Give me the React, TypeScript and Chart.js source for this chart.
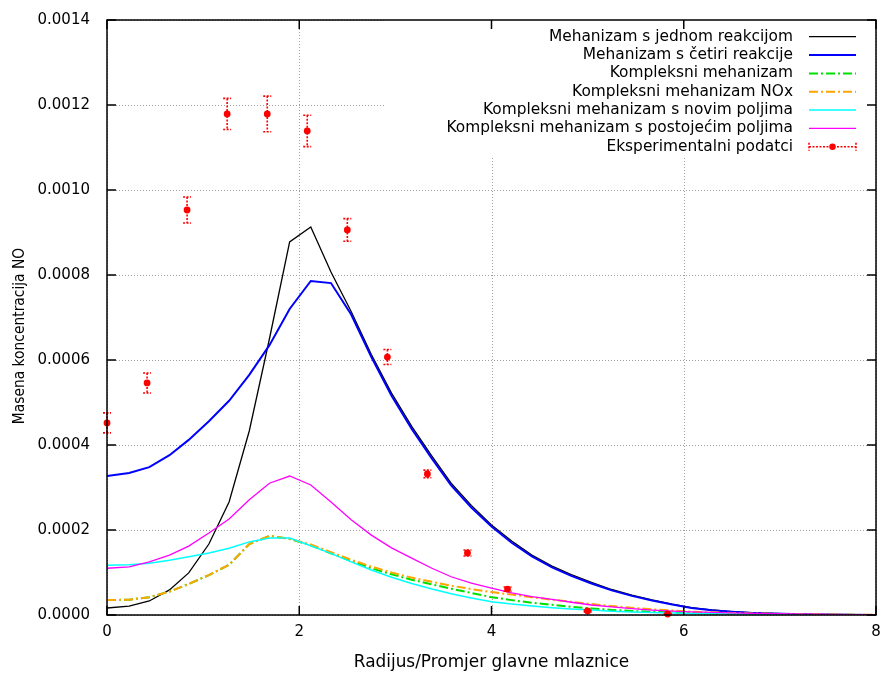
import React, { useEffect, useRef } from 'react';
import { Chart, registerables } from 'chart.js';

Chart.register(...registerables);

// ---------- data ----------
const xModel = [0, 0.23, 0.44, 0.65, 0.85, 1.06, 1.27, 1.48, 1.69, 1.9, 2.12, 2.33, 2.54, 2.75, 2.96, 3.17, 3.38, 3.58, 3.79, 4.0, 4.21, 4.42, 4.63, 4.83, 5.04, 5.25, 5.46, 5.67, 5.88, 6.08, 6.29, 6.5, 6.71, 6.92, 7.13, 7.33, 7.54, 7.75, 8.0];

const jednaReakcija = [1.65e-5, 2.1e-5, 3.3e-5, 5.9e-5, 9.9e-5, 1.67e-4, 2.66e-4, 4.33e-4, 6.5e-4, 8.78e-4, 9.13e-4, 8.07e-4, 7.14e-4, 6.13e-4, 5.22e-4, 4.44e-4, 3.74e-4, 3.1e-4, 2.58e-4, 2.12e-4, 1.74e-4, 1.41e-4, 1.15e-4, 9.5e-5, 7.7e-5, 6.0e-5, 4.7e-5, 3.55e-5, 2.55e-5, 1.72e-5, 1.2e-5, 8e-6, 5.5e-6, 3.5e-6, 2.5e-6, 1.5e-6, 1e-6, 6e-7, 3e-7];

const cetiriReakcije = [3.27e-4, 3.34e-4, 3.48e-4, 3.76e-4, 4.12e-4, 4.56e-4, 5.04e-4, 5.65e-4, 6.35e-4, 7.2e-4, 7.86e-4, 7.81e-4, 7.07e-4, 6.07e-4, 5.16e-4, 4.38e-4, 3.68e-4, 3.05e-4, 2.53e-4, 2.08e-4, 1.7e-4, 1.38e-4, 1.12e-4, 9.2e-5, 7.4e-5, 5.8e-5, 4.5e-5, 3.4e-5, 2.45e-5, 1.65e-5, 1.1e-5, 7.5e-6, 5e-6, 3.3e-6, 2.3e-6, 1.4e-6, 9e-7, 5e-7, 2e-7];

const kompleksni = [3.5e-5, 3.6e-5, 4.2e-5, 5.5e-5, 7.3e-5, 9.4e-5, 1.18e-4, 1.67e-4, 1.86e-4, 1.79e-4, 1.64e-4, 1.45e-4, 1.27e-4, 1.1e-4, 9.6e-5, 8.3e-5, 7.2e-5, 6.2e-5, 5.2e-5, 4.2e-5, 3.5e-5, 2.9e-5, 2.4e-5, 1.9e-5, 1.55e-5, 1.2e-5, 9.5e-6, 7.5e-6, 5.8e-6, 4.5e-6, 3.4e-6, 2.6e-6, 2e-6, 1.5e-6, 1.1e-6, 8e-7, 5e-7, 3e-7, 2e-7];

const kompleksniNOx = [3.5e-5, 3.6e-5, 4.2e-5, 5.5e-5, 7.3e-5, 9.4e-5, 1.18e-4, 1.67e-4, 1.86e-4, 1.79e-4, 1.66e-4, 1.48e-4, 1.3e-4, 1.14e-4, 1.0e-4, 8.8e-5, 7.8e-5, 6.9e-5, 6.1e-5, 5.4e-5, 4.8e-5, 4.2e-5, 3.6e-5, 3.1e-5, 2.6e-5, 2.1e-5, 1.7e-5, 1.35e-5, 1.05e-5, 8e-6, 6.2e-6, 4.8e-6, 3.7e-6, 2.8e-6, 2.1e-6, 1.5e-6, 1.1e-6, 7e-7, 4e-7];

const noviPolja = [1.17e-4, 1.18e-4, 1.22e-4, 1.29e-4, 1.37e-4, 1.46e-4, 1.57e-4, 1.72e-4, 1.81e-4, 1.81e-4, 1.63e-4, 1.45e-4, 1.25e-4, 1.06e-4, 8.9e-5, 7.4e-5, 6.1e-5, 5.0e-5, 4.0e-5, 3.1e-5, 2.6e-5, 2.1e-5, 1.7e-5, 1.4e-5, 1.15e-5, 9e-6, 7e-6, 6e-6, 4.5e-6, 3.5e-6, 2.8e-6, 2.2e-6, 1.7e-6, 1.3e-6, 1e-6, 7e-7, 5e-7, 3e-7, 2e-7];

const postojeciPolja = [1.1e-4, 1.13e-4, 1.25e-4, 1.41e-4, 1.62e-4, 1.93e-4, 2.26e-4, 2.71e-4, 3.1e-4, 3.27e-4, 3.06e-4, 2.66e-4, 2.24e-4, 1.88e-4, 1.58e-4, 1.34e-4, 1.1e-4, 9.0e-5, 7.5e-5, 6.3e-5, 5.2e-5, 4.3e-5, 3.7e-5, 3.0e-5, 2.35e-5, 1.9e-5, 1.5e-5, 1.15e-5, 9e-6, 7.2e-6, 6e-6, 5e-6, 4e-6, 3.2e-6, 2.5e-6, 1.9e-6, 1.4e-6, 1e-6, 6e-7];

const expX = [0, 0.417, 0.833, 1.25, 1.667, 2.083, 2.5, 2.917, 3.333, 3.75, 4.167, 5.0, 5.833];
const expY = [4.52e-4, 5.46e-4, 9.53e-4, 1.179e-3, 1.179e-3, 1.139e-3, 9.06e-4, 6.07e-4, 3.32e-4, 1.46e-4, 6.1e-5, 9.4e-6, 2.4e-6];
const expErr = [2.35e-5, 2.35e-5, 3.06e-5, 3.65e-5, 4.2e-5, 3.7e-5, 2.67e-5, 1.76e-5, 9e-6, 7e-6, 5e-6, 2e-6, 1e-6];

const seriesNames = [
  'Mehanizam s jednom reakcijom',
  'Mehanizam s četiri reakcije',
  'Kompleksni mehanizam',
  'Kompleksni mehanizam NOx',
  'Kompleksni mehanizam s novim poljima',
  'Kompleksni mehanizam s postojećim poljima',
  'Eksperimentalni podatci',
];

const xTitle = 'Radijus/Promjer glavne mlaznice';
const yTitle = 'Masena koncentracija NO';

const FONT = "'DejaVu Sans', 'Liberation Sans', sans-serif";
const DASHDOT = [9, 3, 2, 3];
const ERR_DASH = [2, 1.5];

const styles = [
  { color: '#000000', width: 1.3, dash: [] as number[] },
  { color: '#0000ff', width: 2, dash: [] as number[] },
  { color: '#00e000', width: 2, dash: DASHDOT },
  { color: '#ffa500', width: 2, dash: DASHDOT },
  { color: '#00ffff', width: 1.5, dash: [] as number[] },
  { color: '#ff00ff', width: 1.3, dash: [] as number[] },
];
const RED = '#ff0000';
const EXP_INDEX = 6;

const modelSeries = [jednaReakcija, cetiriReakcije, kompleksni, kompleksniNOx, noviPolja, postojeciPolja];

const gnuplotPlugin = {
  id: 'gnuplotLook',
  beforeDatasetsDraw(chart: any) {
    const { ctx, chartArea: a, scales } = chart;
    const xs = scales.x;
    const ys = scales.y;
    ctx.save();
    ctx.strokeStyle = '#a0a0a0';
    ctx.lineWidth = 1;
    ctx.setLineDash([1, 2]);
    xs.ticks.forEach((t: any) => {
      const px = Math.round(xs.getPixelForValue(t.value)) + 0.5;
      ctx.beginPath();
      ctx.moveTo(px, a.top);
      ctx.lineTo(px, a.bottom);
      ctx.stroke();
    });
    ys.ticks.forEach((t: any) => {
      const py = Math.round(ys.getPixelForValue(t.value)) + 0.5;
      ctx.beginPath();
      ctx.moveTo(a.left, py);
      ctx.lineTo(a.right, py);
      ctx.stroke();
    });
    ctx.setLineDash([]);
    // opaque key box
    ctx.fillStyle = '#ffffff';
    ctx.fillRect(a.right - 491, a.top, 491, 137);
    ctx.restore();
  },
  beforeDatasetDraw(chart: any, args: any) {
    if (args.index !== EXP_INDEX) return;
    const { ctx, scales } = chart;
    const xs = scales.x;
    const ys = scales.y;
    ctx.save();
    ctx.strokeStyle = RED;
    ctx.lineWidth = 1.6;
    ctx.setLineDash(ERR_DASH);
    expX.forEach((xv, i) => {
      const px = xs.getPixelForValue(xv);
      const top = ys.getPixelForValue(expY[i] + expErr[i]);
      const bot = ys.getPixelForValue(expY[i] - expErr[i]);
      ctx.beginPath();
      ctx.moveTo(px, top);
      ctx.lineTo(px, bot);
      ctx.moveTo(px - 4, top);
      ctx.lineTo(px + 4, top);
      ctx.moveTo(px - 4, bot);
      ctx.lineTo(px + 4, bot);
      ctx.stroke();
    });
    ctx.restore();
  },
  afterDatasetsDraw(chart: any) {
    const { ctx, chartArea: a, scales } = chart;
    const xs = scales.x;
    const ys = scales.y;
    ctx.save();
    // border
    ctx.strokeStyle = '#000';
    ctx.lineWidth = 1.5;
    ctx.setLineDash([]);
    ctx.strokeRect(a.left, a.top, a.right - a.left, a.bottom - a.top);
    // inward ticks, mirrored
    ctx.beginPath();
    xs.ticks.forEach((t: any) => {
      const px = xs.getPixelForValue(t.value);
      ctx.moveTo(px, a.bottom);
      ctx.lineTo(px, a.bottom - 9);
      ctx.moveTo(px, a.top);
      ctx.lineTo(px, a.top + 9);
    });
    ys.ticks.forEach((t: any) => {
      const py = ys.getPixelForValue(t.value);
      ctx.moveTo(a.left, py);
      ctx.lineTo(a.left + 9, py);
      ctx.moveTo(a.right, py);
      ctx.lineTo(a.right - 9, py);
    });
    ctx.stroke();

    // key
    ctx.font = `15.4px ${FONT}`;
    ctx.textAlign = 'right';
    ctx.textBaseline = 'middle';
    ctx.fillStyle = '#000';
    const textRight = a.right - 83;
    const s0 = a.right - 67;
    const s1 = a.right - 20;
    seriesNames.forEach((name, i) => {
      const ry = a.top + 16.7 + i * 18.35;
      ctx.fillText(name, textRight, ry);
      if (i < styles.length) {
        const st = styles[i];
        ctx.strokeStyle = st.color;
        ctx.lineWidth = st.width;
        ctx.setLineDash(st.dash);
        ctx.beginPath();
        ctx.moveTo(s0, ry);
        ctx.lineTo(s1, ry);
        ctx.stroke();
        ctx.setLineDash([]);
      } else {
        ctx.strokeStyle = RED;
        ctx.lineWidth = 1.6;
        ctx.setLineDash(ERR_DASH);
        ctx.beginPath();
        ctx.moveTo(s0, ry);
        ctx.lineTo(s1, ry);
        ctx.moveTo(s0, ry - 4);
        ctx.lineTo(s0, ry + 4);
        ctx.moveTo(s1, ry - 4);
        ctx.lineTo(s1, ry + 4);
        ctx.stroke();
        ctx.setLineDash([]);
        ctx.fillStyle = RED;
        ctx.beginPath();
        ctx.arc((s0 + s1) / 2, ry, 3.2, 0, Math.PI * 2);
        ctx.fill();
        ctx.fillStyle = '#000';
      }
    });

    // y title
    ctx.translate(20, 336);
    ctx.rotate(-Math.PI / 2);
    (ctx as any).fontStretch = 'condensed';
    ctx.font = `15.4px 'DejaVu Sans Condensed', ${FONT}`;
    ctx.textAlign = 'center';
    ctx.textBaseline = 'middle';
    ctx.fillStyle = '#000';
    ctx.fillText(yTitle, 0, 0);
    ctx.restore();
  },
};

export default function App() {
  const ref = useRef<HTMLCanvasElement>(null);

  useEffect(() => {
    const canvas = ref.current;
    if (!canvas) return;

    const datasets: any[] = modelSeries.map((ys, i) => ({
      label: seriesNames[i],
      data: xModel.map((x, j) => ({ x, y: ys[j] })),
      borderColor: styles[i].color,
      backgroundColor: styles[i].color,
      borderWidth: styles[i].width,
      borderDash: styles[i].dash,
      pointRadius: 0,
      pointHoverRadius: 0,
      tension: 0,
      fill: false,
      order: 6 - i,
    }));
    datasets.push({
      label: seriesNames[EXP_INDEX],
      data: expX.map((x, j) => ({ x, y: expY[j] })),
      showLine: false,
      borderColor: RED,
      backgroundColor: RED,
      pointRadius: 3.4,
      pointBorderWidth: 0,
      pointStyle: 'circle',
      clip: false,
      order: 0,
    });

    const chart = new Chart(canvas, {
      type: 'line',
      data: { datasets },
      options: {
        animation: false,
        responsive: false,
        maintainAspectRatio: false,
        layout: { padding: { top: 20, right: 6, left: 0, bottom: 0 } },
        plugins: {
          legend: { display: false },
          tooltip: { enabled: false },
        },
        scales: {
          x: {
            type: 'linear',
            min: 0,
            max: 8,
            afterFit: (s: any) => {
              s.height = 60;
              s.paddingLeft = 0;
              s.paddingRight = 0;
            },
            ticks: {
              stepSize: 2,
              padding: 8,
              color: '#000',
              font: { family: FONT, size: 15 },
              callback: (v: any) => String(v),
            },
            grid: { display: false, drawTicks: false },
            border: { display: false },
            title: {
              display: true,
              text: xTitle,
              color: '#000',
              font: { family: FONT, size: 16.9 },
              padding: { top: 0, bottom: 2 },
            },
          },
          y: {
            type: 'linear',
            min: 0,
            max: 0.0014,
            afterFit: (s: any) => {
              s.width = 107;
              s.paddingTop = 0;
              s.paddingBottom = 0;
            },
            ticks: {
              stepSize: 0.0002,
              padding: 17,
              color: '#000',
              font: { family: FONT, size: 15 },
              callback: (v: any) => Number(v).toFixed(4),
            },
            grid: { display: false, drawTicks: false },
            border: { display: false },
          },
        },
      },
      plugins: [gnuplotPlugin],
    } as any);

    return () => chart.destroy();
  }, []);

  return (
    <canvas
      ref={ref}
      width={882}
      height={675}
      style={{ position: 'absolute', left: 0, top: 0, width: 882, height: 675, display: 'block' }}
    />
  );
}
